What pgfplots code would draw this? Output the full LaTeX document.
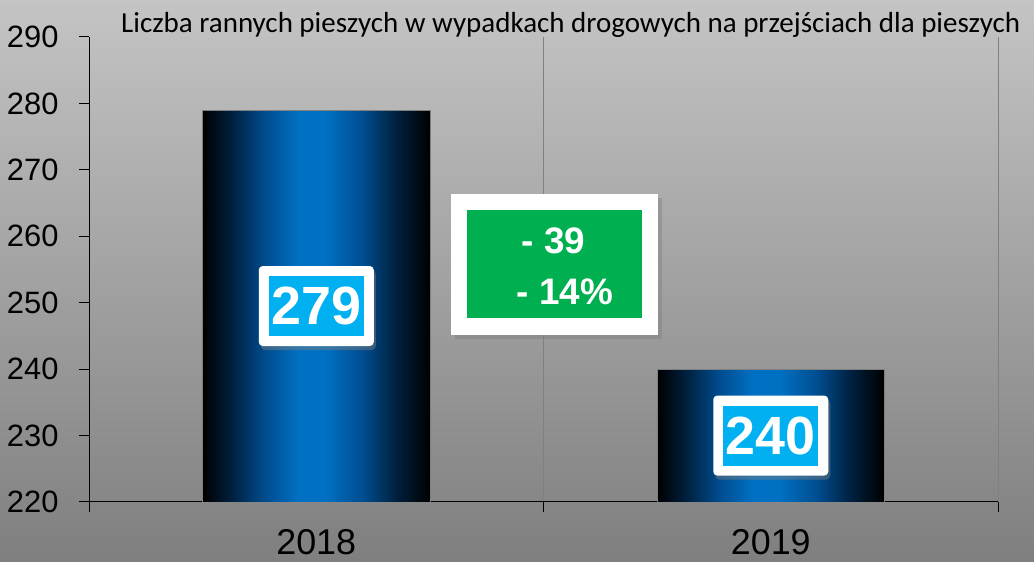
\documentclass[border=0pt]{standalone}
\usepackage{fontspec}
\setmainfont{Liberation Sans}
\newfontfamily\titlefont{Carlito}
\usepackage{pgfplots}
\pgfplotsset{compat=1.18}
\usetikzlibrary{shadows}
\definecolor{barblue}{RGB}{0,112,194}
\definecolor{barc1}{RGB}{0,30,58}
\definecolor{barc2}{RGB}{0,78,146}
\definecolor{labcyan}{RGB}{0,176,240}
\definecolor{boxgreen}{RGB}{0,176,80}
\definecolor{bgtop}{RGB}{196,196,196}
\definecolor{bgbot}{RGB}{127,127,127}
\definecolor{gridgray}{RGB}{128,128,128}
\pgfdeclarehorizontalshading{barshade}{100bp}{color(0bp)=(black); color(25bp)=(black); color(31bp)=(barc1); color(39bp)=(barc2); color(46bp)=(barblue); color(52bp)=(barblue); color(60bp)=(barc2); color(68bp)=(barc1); color(75bp)=(black); color(100bp)=(black)}
\begin{document}
\begin{tikzpicture}[x=1bp,y=1bp]
\shade[top color=bgtop, bottom color=bgbot] (0,0) rectangle (1034,562);
\begin{axis}[
  at={(89bp,60bp)}, anchor=south west,
  scale only axis, width=909bp, height=465bp,
  xmin=0, xmax=2, ymin=220, ymax=290,
  axis x line*=bottom, axis y line*=left,
  axis line style={black, line width=1bp, -},
  ytick={220,230,...,290},
  xtick={0,1,2}, xticklabels={},
  extra x ticks={0.5,1.5}, extra x tick labels={2018,2019},
  extra x tick style={major tick length=0pt, grid=none},
  xmajorgrids, major grid style={gridgray, line width=1bp},
  tick align=outside, major tick length=10bp,
  tick style={black, line width=1bp},
  /pgf/number format/assume math mode=true,
  yticklabel style={font=\fontsize{31}{31}\selectfont, xshift=-17bp},
  xticklabel style={font=\fontsize{36}{36}\selectfont, yshift=-24bp},
  ybar, bar width=0.5, bar shift=0pt,
]
\addplot[draw=gray, line width=0.5bp, shading=barshade] coordinates {(0.5,279)};
\addplot[draw=gray, line width=0.5bp, shading=barshade] coordinates {(1.5,240)};
% value labels
\node[fill=white, rounded corners=4bp, minimum width=115bp, minimum height=80bp,
  drop shadow={shadow xshift=2bp, shadow yshift=-4bp, opacity=0.45}] at (axis cs:0.5,249.5) {};
\node[fill=labcyan, minimum width=95bp, minimum height=60bp, inner sep=0pt, text=white,
  font=\fontsize{54}{54}\selectfont\bfseries] at (axis cs:0.5,249.5) {279};
\node[fill=white, rounded corners=4bp, minimum width=115bp, minimum height=80bp,
  drop shadow={shadow xshift=2bp, shadow yshift=-4bp, opacity=0.45}] at (axis cs:1.5,230) {};
\node[fill=labcyan, minimum width=95bp, minimum height=60bp, inner sep=0pt, text=white,
  font=\fontsize{54}{54}\selectfont\bfseries] at (axis cs:1.5,230) {240};
% difference box
\node[fill=white, minimum width=207bp, minimum height=141bp, inner sep=0pt,
  drop shadow={shadow xshift=4bp, shadow yshift=-4bp, opacity=0.45}] at (axis cs:1.024,255.75) {};
\node[fill=boxgreen, minimum width=175bp, minimum height=108bp, inner sep=0pt] at (axis cs:1.024,255.8) {};
\node[anchor=base, inner sep=0pt, text=white, font=\fontsize{37}{37}\selectfont\bfseries] at (axis cs:1.022,257.48) {- 39};
\node[anchor=base, inner sep=0pt, text=white, font=\fontsize{37}{37}\selectfont\bfseries] at (axis cs:1.047,249.8) {- 14\%};
\end{axis}
\node[anchor=base west, inner sep=0pt, font=\titlefont\fontsize{29.1}{29.1}\selectfont] at (121,529) {Liczba rannych pieszych w wypadkach drogowych na przejściach dla pieszych};
\pgfresetboundingbox
\path[use as bounding box] (0,0) rectangle (1034,562);
\end{tikzpicture}
\end{document}
